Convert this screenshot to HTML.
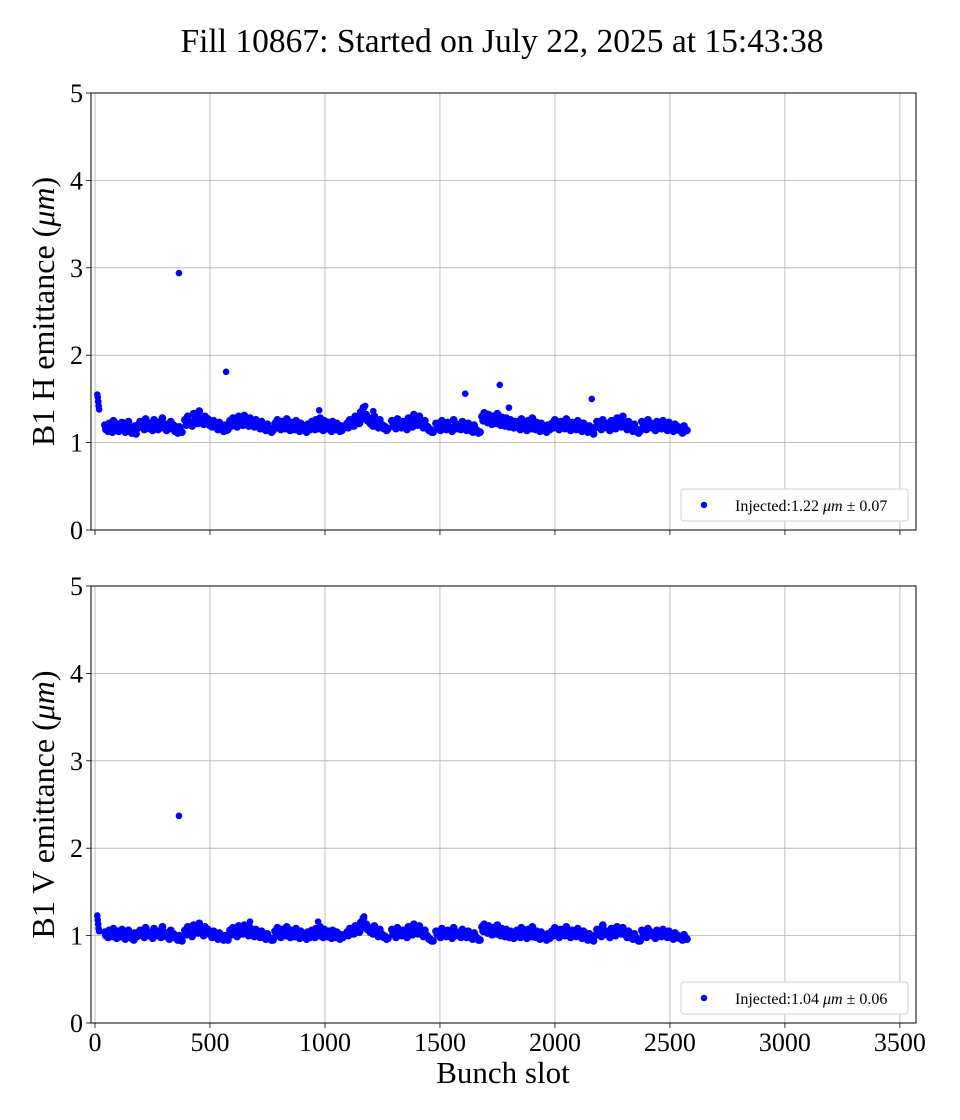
<!DOCTYPE html>
<html><head><meta charset="utf-8">
<style>
html,body{margin:0;padding:0;background:#fff;}
svg{display:block;font-family:"Liberation Serif",serif;}
</style></head>
<body>
<svg id="chart" width="960" height="1120" viewBox="0 0 960 1120" xmlns="http://www.w3.org/2000/svg">
<text x="502" y="52" text-anchor="middle" font-size="33.5">Fill 10867: Started on July 22, 2025 at 15:43:38</text>
</svg>
<script>
const xTicks = [0,500,1000,1500,2000,2500,3000,3500];
const yTicks = [0,1,2,3,4,5];
// bunch trains: first and last bunch slot
const trainStart = [43,196,391,587,783,943,1096,1291,1483,1683,1835,1987,2183,2378];
const trainEnd   = [183,378,578,774,935,1078,1274,1470,1674,1826,1978,2174,2370,2574];
const hVals = [
[1.20,1.17,1.22,1.18,1.25,1.16,1.21,1.19,1.23,1.15,1.20,1.24,1.17,1.12,1.19,1.16],
[1.24,1.20,1.27,1.22,1.18,1.26,1.23,1.19,1.28,1.21,1.17,1.24,1.20,1.15,1.18,1.12],
[1.26,1.30,1.22,1.33,1.28,1.36,1.24,1.30,1.27,1.22,1.25,1.19,1.23,1.17,1.20,1.15],
[1.25,1.28,1.22,1.30,1.26,1.31,1.24,1.28,1.22,1.26,1.20,1.24,1.18,1.21,1.16,1.14],
[1.22,1.26,1.19,1.24,1.21,1.27,1.18,1.23,1.20,1.25,1.17,1.22,1.19,1.16,1.21,1.15],
[1.24,1.20,1.26,1.22,1.28,1.19,1.25,1.21,1.23,1.18,1.24,1.20,1.22,1.17,1.19,1.16],
[1.22,1.26,1.24,1.30,1.27,1.35,1.40,1.32,1.28,1.25,1.30,1.22,1.26,1.20,1.18,1.16],
[1.25,1.20,1.27,1.22,1.24,1.19,1.28,1.23,1.32,1.26,1.30,1.22,1.25,1.18,1.15,1.12],
[1.22,1.18,1.25,1.20,1.23,1.17,1.26,1.21,1.19,1.24,1.18,1.22,1.16,1.20,1.14,1.12],
[1.30,1.34,1.28,1.32,1.26,1.30,1.27,1.33,1.25,1.29,1.24,1.28,1.22,1.26,1.21,1.24],
[1.24,1.20,1.27,1.22,1.18,1.25,1.21,1.28,1.19,1.23,1.17,1.22,1.19,1.16,1.20,1.15],
[1.22,1.26,1.19,1.24,1.21,1.27,1.18,1.23,1.20,1.25,1.17,1.22,1.15,1.19,1.13,1.17],
[1.24,1.20,1.26,1.22,1.19,1.25,1.21,1.28,1.23,1.30,1.20,1.24,1.18,1.21,1.15,1.13],
[1.24,1.20,1.26,1.22,1.18,1.24,1.21,1.25,1.19,1.23,1.17,1.21,1.18,1.15,1.19,1.14]];
const hVals2 = [
[1.15,1.13,1.16,1.12,1.18,1.14,1.13,1.15,1.17,1.12,1.14,1.16,1.11,1.13,1.10,1.12],
[1.18,1.15,1.20,1.16,1.14,1.19,1.15,1.17,1.21,1.14,1.16,1.18,1.13,1.11,1.14,1.09],
[1.20,1.24,1.19,1.26,1.22,1.28,1.21,1.23,1.20,1.18,1.19,1.15,1.17,1.13,1.14,1.11],
[1.19,1.22,1.18,1.24,1.20,1.25,1.19,1.21,1.18,1.20,1.16,1.18,1.14,1.15,1.12,1.11],
[1.17,1.19,1.15,1.18,1.16,1.20,1.14,1.17,1.15,1.18,1.13,1.16,1.14,1.12,1.15,1.11],
[1.18,1.15,1.19,1.16,1.21,1.14,1.18,1.16,1.17,1.13,1.18,1.15,1.16,1.13,1.14,1.12],
[1.17,1.20,1.19,1.23,1.22,1.27,1.30,1.25,1.22,1.19,1.23,1.17,1.20,1.16,1.14,1.13],
[1.19,1.16,1.21,1.17,1.18,1.15,1.22,1.18,1.25,1.20,1.23,1.17,1.19,1.14,1.12,1.10],
[1.17,1.14,1.19,1.15,1.17,1.13,1.19,1.16,1.15,1.18,1.14,1.16,1.12,1.15,1.11,1.10],
[1.25,1.28,1.23,1.26,1.21,1.24,1.22,1.26,1.20,1.23,1.19,1.22,1.18,1.20,1.17,1.19],
[1.18,1.15,1.21,1.17,1.14,1.19,1.16,1.21,1.15,1.17,1.13,1.16,1.14,1.12,1.15,1.11],
[1.17,1.20,1.15,1.18,1.16,1.21,1.14,1.17,1.15,1.19,1.13,1.16,1.12,1.14,1.10,1.13],
[1.18,1.15,1.20,1.17,1.14,1.19,1.16,1.21,1.18,1.23,1.15,1.18,1.13,1.16,1.11,1.10],
[1.18,1.15,1.20,1.17,1.14,1.18,1.16,1.19,1.14,1.17,1.13,1.16,1.14,1.11,1.14,1.11]];
const vVals = [
[1.04,1.01,1.06,1.02,1.08,0.99,1.05,1.03,1.07,0.98,1.04,1.06,1.00,0.96,1.03,0.99],
[1.06,1.02,1.09,1.04,1.00,1.08,1.05,1.01,1.10,1.03,0.99,1.06,1.02,0.97,1.00,0.94],
[1.06,1.10,1.03,1.12,1.08,1.14,1.04,1.10,1.07,1.02,1.05,0.99,1.03,0.97,1.00,0.95],
[1.06,1.09,1.03,1.11,1.07,1.12,1.05,1.09,1.03,1.07,1.01,1.05,0.99,1.02,0.97,0.95],
[1.05,1.09,1.02,1.07,1.04,1.10,1.01,1.06,1.03,1.08,1.00,1.05,1.02,0.99,1.04,0.98],
[1.06,1.02,1.08,1.04,1.10,1.01,1.07,1.03,1.05,1.00,1.06,1.02,1.04,0.99,1.01,0.98],
[1.04,1.08,1.06,1.11,1.09,1.15,1.20,1.13,1.09,1.06,1.11,1.03,1.07,1.01,0.99,0.97],
[1.07,1.02,1.09,1.04,1.06,1.01,1.10,1.05,1.13,1.07,1.11,1.03,1.06,0.99,0.96,0.94],
[1.05,1.01,1.08,1.03,1.06,1.00,1.09,1.04,1.02,1.07,1.01,1.05,0.99,1.03,0.97,0.95],
[1.10,1.13,1.07,1.11,1.05,1.09,1.06,1.12,1.04,1.08,1.03,1.07,1.01,1.05,1.00,1.03],
[1.06,1.02,1.09,1.04,1.00,1.07,1.03,1.10,1.01,1.05,0.99,1.04,1.01,0.98,1.02,0.97],
[1.05,1.09,1.02,1.07,1.04,1.10,1.01,1.06,1.03,1.08,1.00,1.05,0.98,1.02,0.96,1.00],
[1.07,1.03,1.12,1.05,1.02,1.08,1.04,1.10,1.06,1.09,1.01,1.05,0.99,1.02,0.96,0.94],
[1.06,1.02,1.08,1.04,1.00,1.06,1.03,1.07,1.01,1.05,0.99,1.03,1.00,0.97,1.01,0.96]];
const vVals2 = [
[1.00,0.98,1.02,0.99,1.03,0.97,1.00,0.99,1.02,0.96,1.00,1.01,0.97,0.95,0.99,0.96],
[1.01,0.98,1.03,1.00,0.97,1.02,1.00,0.98,1.04,0.99,0.96,1.01,0.98,0.95,0.97,0.93],
[1.01,1.04,0.99,1.06,1.03,1.08,1.00,1.04,1.02,0.98,1.00,0.96,0.99,0.95,0.97,0.93],
[1.01,1.04,0.99,1.05,1.02,1.06,1.00,1.03,0.99,1.02,0.98,1.00,0.96,0.98,0.95,0.94],
[1.00,1.03,0.98,1.02,1.00,1.04,0.98,1.01,0.99,1.03,0.97,1.00,0.98,0.96,0.99,0.95],
[1.01,0.98,1.03,1.00,1.04,0.98,1.02,0.99,1.01,0.97,1.01,0.98,1.00,0.96,0.98,0.95],
[1.00,1.03,1.02,1.06,1.04,1.09,1.12,1.07,1.04,1.02,1.05,0.99,1.02,0.98,0.96,0.95],
[1.02,0.98,1.04,1.00,1.01,0.98,1.04,1.01,1.07,1.02,1.05,0.99,1.01,0.96,0.94,0.93],
[1.01,0.98,1.03,0.99,1.01,0.97,1.03,1.00,0.98,1.02,0.98,1.00,0.96,0.99,0.95,0.93],
[1.05,1.08,1.03,1.06,1.01,1.04,1.02,1.07,1.00,1.03,0.99,1.02,0.98,1.00,0.97,0.99],
[1.01,0.98,1.04,1.00,0.97,1.02,0.99,1.05,0.98,1.01,0.96,1.00,0.98,0.95,0.98,0.94],
[1.00,1.04,0.98,1.02,1.00,1.05,0.98,1.01,0.99,1.03,0.97,1.00,0.95,0.98,0.94,0.96],
[1.02,0.99,1.06,1.01,0.98,1.03,1.00,1.05,1.02,1.04,0.98,1.01,0.96,0.98,0.94,0.93],
[1.01,0.98,1.03,1.00,0.97,1.01,0.99,1.02,0.98,1.01,0.96,0.99,0.97,0.95,0.98,0.94]];
// individual bunches (first bunches + outliers)
const hExtraSlots = [10,12,14,16,18,365,570,975,1175,1210,1610,1760,1800,2160];
const hExtraVals  = [1.55,1.52,1.47,1.42,1.38,2.94,1.81,1.37,1.42,1.36,1.56,1.66,1.40,1.50];
const vExtraSlots = [10,12,14,16,18,365,674,970,1170];
const vExtraVals  = [1.23,1.18,1.13,1.08,1.05,2.37,1.16,1.16,1.22];
const legendText = ["1.22","0.07","1.04","0.06"];

const NS="http://www.w3.org/2000/svg";
const svg=document.getElementById('chart');
const L=91,R=916,xMin=-17.4,xMax=3570,yMax=5;
const sx=v=>L+(v-xMin)/(xMax-xMin)*(R-L);
function mk(tag,attrs,parent){const e=document.createElementNS(NS,tag);for(const k in attrs)e.setAttribute(k,attrs[k]);(parent||svg).appendChild(e);return e;}

function panel(top,bottom,vals,vals2,exSlots,exVals,label,mean,std,showX,key){
  const sy=v=>bottom-v/yMax*(bottom-top);
  const g=mk('g',{});
  
  
  xTicks.forEach(t=>{
    const l=mk('line',{x1:sx(t),x2:sx(t),y1:top,y2:bottom,stroke:'#b0b0b0','stroke-width':0.8},g);
    
    
    const tk=mk('line',{x1:sx(t),x2:sx(t),y1:bottom,y2:bottom+5,stroke:'#000','stroke-width':0.8},g);
    
    
    if(showX){
      const tx=mk('text',{x:sx(t),y:bottom+28,'text-anchor':'middle','font-size':26},g);
      tx.textContent=t;
      
      
    }
  });
  yTicks.forEach(t=>{
    const l=mk('line',{x1:L,x2:R,y1:sy(t),y2:sy(t),stroke:'#b0b0b0','stroke-width':0.8},g);
    
    
    const tk=mk('line',{x1:L-5,x2:L,y1:sy(t),y2:sy(t),stroke:'#000','stroke-width':0.8},g);
    
    
    const tx=mk('text',{x:L-8,y:sy(t)+9,'text-anchor':'end','font-size':26},g);
    tx.textContent=t;
    
    
  });
  const pts=mk('g',{fill:'#0000ff'},g);
  
  
  [vals,vals2].forEach((set,si)=>{
    set.forEach((arr,i)=>{
      const n=arr.length;
      const step=(trainEnd[i]-trainStart[i])/(n-1);
      arr.forEach((v,j)=>{
        const slot=trainStart[i]+step*j+(si?step/2:0);
        if(slot>trainEnd[i])return;
        const c=mk('circle',{cx:sx(slot),cy:sy(v),r:3.9},pts);
        
        
      });
    });
  });
  exSlots.forEach((s,i)=>{
    const c=mk('circle',{cx:sx(s),cy:sy(exVals[i]),r:3.3},pts);
    
    
  });
  const fr=mk('rect',{x:L,y:top,width:R-L,height:bottom-top,fill:'none',stroke:'#000','stroke-width':1},g);
  
  
  const yl=mk('text',{x:0,y:0,'font-size':32,'text-anchor':'middle',transform:`translate(54,${(top+bottom)/2}) rotate(-90)`},g);
  yl.innerHTML=label+' emittance (<tspan font-style="italic">μm</tspan>)';
  
  
  const lg=mk('g',{},g);
  
  
  mk('rect',{x:681,y:bottom-41,width:227,height:32,rx:3,fill:'#fff',stroke:'#d0d0d0','stroke-width':1},lg);
  mk('circle',{cx:704,cy:bottom-25,r:3.2,fill:'#0000ff'},lg);
  const lt=mk('text',{x:735,y:bottom-19,'font-size':16},lg);
  lt.innerHTML='Injected:'+mean+' <tspan font-style="italic">μm</tspan> ± '+std;
  
  
}
panel(93,530,hVals,hVals2,hExtraSlots,hExtraVals,'B1 H',legendText[0],legendText[1],false,'h');
panel(586,1023,vVals,vVals2,vExtraSlots,vExtraVals,'B1 V',legendText[2],legendText[3],true,'v');
const xl=mk('text',{x:503,y:1083,'text-anchor':'middle','font-size':31});
xl.textContent='Bunch slot';


</script>
</body></html>
